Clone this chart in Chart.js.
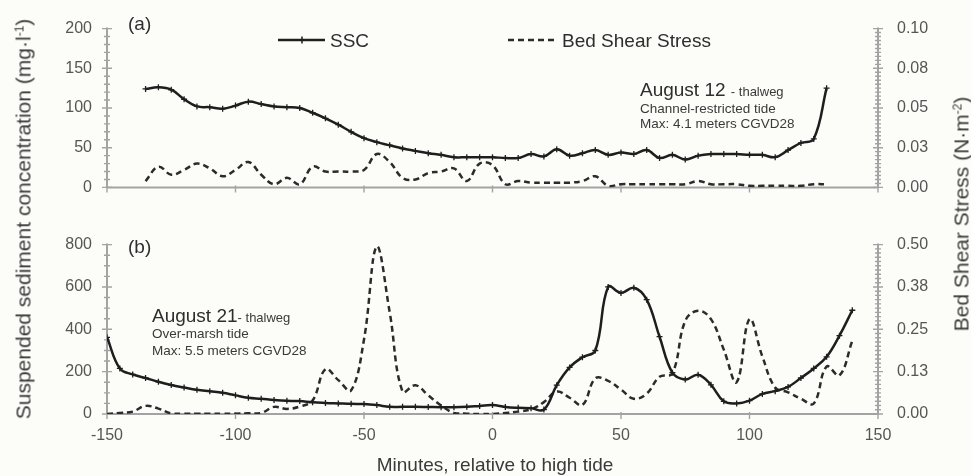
<!DOCTYPE html>
<html>
<head>
<meta charset="utf-8">
<title>SSC and bed shear stress, thalweg</title>
<script src="https://cdn.jsdelivr.net/npm/chart.js@4.4.1/dist/chart.umd.min.js"></script>
<style>
  html, body { margin: 0; padding: 0; background: #fcfcf9; }
  #wrap { position: relative; width: 971px; height: 476px; overflow: hidden;
          font-family: "Liberation Sans", Arial, sans-serif; color: #333; }
  canvas { position: absolute; left: 0; }
  .t { position: absolute; white-space: nowrap; line-height: 1; }
  .vt { position: absolute; white-space: nowrap; line-height: 1; font-size: 21px; color: #3a3a3a;
        transform: translate(-50%, -50%) rotate(-90deg); }
  .vt sup { font-size: 12px; vertical-align: 7px; line-height: 0; }
  .big { font-size: 19px; color: #2e2e2e; }
  .mid { font-size: 13px; color: #3a3a3a; }
  .small { font-size: 13.5px; color: #3a3a3a; }
  svg.key { position: absolute; overflow: visible; }
</style>
</head>
<body>
<div id="wrap">
  <canvas id="panelA" width="971" height="216" style="top:0;width:971px;height:216px"></canvas>
  <canvas id="panelB" width="971" height="260" style="top:216px;width:971px;height:260px"></canvas>

  <!-- panel letters -->
  <div class="t big" style="left:128px;top:14px">(a)</div>
  <div class="t big" style="left:128px;top:237px">(b)</div>

  <!-- legend -->
  <svg class="key" style="left:278px;top:34px" width="48" height="12">
    <line x1="0" y1="6" x2="47" y2="6" stroke="#1e1e1e" stroke-width="2.5"/>
    <line x1="24" y1="2.5" x2="24" y2="9.5" stroke="#1e1e1e" stroke-width="1.5"/>
  </svg>
  <div class="t big" style="left:330px;top:31px">SSC</div>
  <svg class="key" style="left:508px;top:34px" width="50" height="12">
    <line x1="0" y1="6" x2="49" y2="6" stroke="#2b2b2b" stroke-width="2.5" stroke-dasharray="6 4"/>
  </svg>
  <div class="t big" style="left:562px;top:31px">Bed Shear Stress</div>

  <!-- panel notes -->
  <div class="t big" style="left:640px;top:80px">August 12 <span class="mid">- thalweg</span></div>
  <div class="t small" style="left:640px;top:101.5px">Channel-restricted tide</div>
  <div class="t small" style="left:640px;top:116.5px">Max: 4.1 meters CGVD28</div>

  <div class="t big" style="left:152px;top:305.5px">August 21<span class="mid">- thalweg</span></div>
  <div class="t small" style="left:152px;top:326.5px">Over-marsh tide</div>
  <div class="t small" style="left:152px;top:343.5px">Max: 5.5 meters CGVD28</div>

  <!-- axis titles -->
  <div class="vt" style="left:23px;top:219px">Suspended sediment concentration (mg·l<sup>-1</sup>)</div>
  <div class="vt" style="left:961px;top:214px">Bed Shear Stress (N·m<sup>-2</sup>)</div>
  <div class="t" style="left:495px;top:455px;font-size:19px;color:#3a3a3a;transform:translateX(-50%)">Minutes, relative to high tide</div>
</div>

<script>
// ---- (a) August 12, channel-restricted tide ----
const minutesA = [-135, -130, -125, -120, -115, -110, -105, -100, -95, -90,
                  -85, -80, -75, -70, -65, -60, -55, -50, -45, -40,
                  -35, -30, -25, -20, -15, -10, -5, 0, 5, 10,
                  15, 20, 25, 30, 35, 40, 45, 50, 55, 60,
                  65, 70, 75, 80, 85, 90, 95, 100, 105, 110,
                  115, 120, 125, 130];
const sscA = [124, 126, 123, 111, 102, 101, 99, 103, 108, 105,
              102, 101, 100, 94, 87, 79, 70, 62, 57, 53,
              49, 46, 43, 41, 38, 38, 38, 38, 37, 37,
              42, 39, 48, 40, 43, 47, 41, 44, 42, 47,
              37, 41, 35, 40, 42, 42, 42, 41, 41, 38,
              47, 56, 61, 125];
const shearA = [0.004, 0.013, 0.008, 0.011, 0.015, 0.012, 0.007, 0.011, 0.016, 0.008,
                0.002, 0.006, 0.002, 0.013, 0.010, 0.010, 0.010, 0.011, 0.021, 0.016,
                0.006, 0.005, 0.009, 0.010, 0.012, 0.004, 0.015, 0.014, 0.002, 0.004,
                0.003, 0.003, 0.003, 0.003, 0.004, 0.007, 0.001, 0.002, 0.002, 0.002,
                0.002, 0.002, 0.002, 0.004, 0.002, 0.002, 0.002, 0.001, 0.001, 0.001,
                0.001, 0.001, 0.002, 0.002];

// ---- (b) August 21, over-marsh tide ----
const minutesB = [-150, -145, -140, -135, -130, -125, -120, -115, -110, -105,
                  -100, -95, -90, -85, -80, -75, -70, -65, -60, -55,
                  -50, -45, -40, -35, -30, -25, -20, -15, -10, -5,
                  0, 5, 10, 15, 20, 25, 30, 35, 40, 45,
                  50, 55, 60, 65, 70, 75, 80, 85, 90, 95,
                  100, 105, 110, 115, 120, 125, 130, 135, 140];
const sscB = [362, 215, 187, 170, 152, 137, 125, 114, 107, 100,
              88, 77, 72, 66, 62, 61, 55, 52, 50, 48,
              47, 42, 34, 34, 34, 33, 32, 32, 34, 38,
              42, 33, 29, 27, 21, 136, 220, 268, 300, 600,
              572, 596, 540, 365, 195, 163, 185, 138, 60, 50,
              63, 95, 108, 128, 170, 215, 270, 370, 490];
const shearB = [0.000, 0.003, 0.007, 0.024, 0.016, 0.002, 0.001, 0.001, 0.001, 0.001,
                0.001, 0.002, 0.003, 0.021, 0.015, 0.022, 0.040, 0.132, 0.100, 0.070,
                0.220, 0.495, 0.300, 0.066, 0.085, 0.055, 0.025, 0.003, 0.001, 0.000,
                0.000, 0.003, 0.007, 0.014, 0.035, 0.066, 0.048, 0.027, 0.105, 0.098,
                0.072, 0.045, 0.060, 0.110, 0.120, 0.275, 0.305, 0.280, 0.190, 0.094,
                0.280, 0.170, 0.078, 0.064, 0.045, 0.031, 0.140, 0.114, 0.216];

// ---- axis ticks ----
const xTickValues = [-150, -100, -50, 0, 50, 100, 150];
const xTickLabels = ['-150', '-100', '-50', '0', '50', '100', '150'];
const sscTickValuesA = [0, 50, 100, 150, 200];
const sscTickLabelsA = ['0', '50', '100', '150', '200'];
const shearTickValuesA = [0, 0.025, 0.05, 0.075, 0.1];
const shearTickLabelsA = ['0.00', '0.03', '0.05', '0.08', '0.10'];
const sscTickValuesB = [0, 200, 400, 600, 800];
const sscTickLabelsB = ['0', '200', '400', '600', '800'];
const shearTickValuesB = [0, 0.125, 0.25, 0.375, 0.5];
const shearTickLabelsB = ['0.00', '0.13', '0.25', '0.38', '0.50'];

const AXIS_COLOR = '#a3a3a3';
const LABEL_COLOR = '#555';
const FONT = { family: '"Liberation Sans", Arial, sans-serif', size: 16 };

// Axis lines plus crossing major/minor tick marks
const axisMarks = {
  id: 'axisMarks',
  beforeDatasetsDraw(chart, args, opts) {
    const { ctx, chartArea: a, scales } = chart;
    ctx.save();
    ctx.strokeStyle = AXIS_COLOR;
    ctx.lineWidth = 2;
    ctx.beginPath();
    ctx.moveTo(a.left, a.bottom); ctx.lineTo(a.right, a.bottom);
    ctx.moveTo(a.left, a.top - 1); ctx.lineTo(a.left, a.bottom);
    ctx.moveTo(a.right, a.top - 1); ctx.lineTo(a.right, a.bottom);
    ctx.stroke();

    ctx.lineWidth = 1.4;
    [['y', a.left], ['y2', a.right]].forEach(([id, x]) => {
      const s = scales[id];
      const step = opts[id];
      const n = Math.round((s.max - s.min) / step);
      ctx.beginPath();
      for (let i = 0; i <= n; i++) {
        const y = s.getPixelForValue(s.min + i * step);
        ctx.moveTo(x - 3, y); ctx.lineTo(x + 3, y);
      }
      s.ticks.forEach(t => {
        const y = s.getPixelForValue(t.value);
        ctx.moveTo(x - 5, y); ctx.lineTo(x + 5, y);
      });
      ctx.stroke();
    });

    const sx = scales.x;
    ctx.beginPath();
    sx.ticks.forEach(t => {
      const x = sx.getPixelForValue(t.value);
      ctx.moveTo(x, a.bottom - 2); ctx.lineTo(x, a.bottom + 5);
    });
    ctx.stroke();
    ctx.restore();
  }
};

function points(xs, ys) { return xs.map((x, i) => ({ x, y: ys[i] })); }

function sscSet(xs, ys) {
  return {
    label: 'SSC', data: points(xs, ys), yAxisID: 'y',
    borderColor: '#1e1e1e', borderWidth: 2.5, tension: 0.4, fill: false,
    pointStyle: 'cross', pointRadius: 3, pointBorderWidth: 1.3,
    pointBorderColor: '#1e1e1e', pointBackgroundColor: '#1e1e1e'
  };
}
function shearSet(xs, ys) {
  return {
    label: 'Bed Shear Stress', data: points(xs, ys), yAxisID: 'y2',
    borderColor: '#2b2b2b', borderWidth: 2.5, borderDash: [6, 4],
    tension: 0.4, fill: false, pointRadius: 0
  };
}

function fixedTicks(values) {
  return scale => { scale.ticks = values.map(v => ({ value: v })); };
}

function panel(canvasId, cfg) {
  return new Chart(document.getElementById(canvasId), {
    type: 'line',
    data: { datasets: [sscSet(cfg.xs, cfg.ssc), shearSet(cfg.xs, cfg.shear)] },
    options: {
      responsive: false, animation: false, events: [],
      layout: { padding: { top: cfg.top, left: 0, right: 0, bottom: 0 } },
      plugins: {
        legend: { display: false }, tooltip: { enabled: false },
        axisMarks: { y: cfg.sscMinor, y2: cfg.shearMinor }
      },
      scales: {
        x: {
          type: 'linear', min: -150, max: 150,
          afterBuildTicks: fixedTicks(xTickValues),
          grid: { display: false, drawTicks: false }, border: { display: false },
          ticks: {
            display: cfg.xLabels, color: LABEL_COLOR, font: FONT, padding: 12,
            maxRotation: 0, callback: (v, i) => xTickLabels[i]
          },
          afterFit: s => { s.height = cfg.xHeight; }
        },
        y: {
          position: 'left', min: 0, max: cfg.sscMax,
          afterBuildTicks: fixedTicks(cfg.sscTicks),
          grid: { display: false, drawTicks: false }, border: { display: false },
          ticks: { color: LABEL_COLOR, font: FONT, padding: 15, callback: (v, i) => cfg.sscLabels[i] },
          afterFit: s => { s.width = 107; }
        },
        y2: {
          position: 'right', min: 0, max: cfg.shearMax,
          afterBuildTicks: fixedTicks(cfg.shearTicks),
          grid: { display: false, drawTicks: false }, border: { display: false },
          ticks: { color: LABEL_COLOR, font: FONT, padding: 19, callback: (v, i) => cfg.shearLabels[i] },
          afterFit: s => { s.width = 93; }
        }
      }
    },
    plugins: [axisMarks]
  });
}

panel('panelA', {
  xs: minutesA, ssc: sscA, shear: shearA, top: 25, xHeight: 9, xLabels: false,
  sscMax: 200, sscTicks: sscTickValuesA, sscLabels: sscTickLabelsA, sscMinor: 10,
  shearMax: 0.1, shearTicks: shearTickValuesA, shearLabels: shearTickLabelsA, shearMinor: 0.0025
});

panel('panelB', {
  xs: minutesB, ssc: sscB, shear: shearB, top: 27, xHeight: 62, xLabels: true,
  sscMax: 800, sscTicks: sscTickValuesB, sscLabels: sscTickLabelsB, sscMinor: 50,
  shearMax: 0.5, shearTicks: shearTickValuesB, shearLabels: shearTickLabelsB, shearMinor: 0.0125
});
</script>
</body>
</html>
